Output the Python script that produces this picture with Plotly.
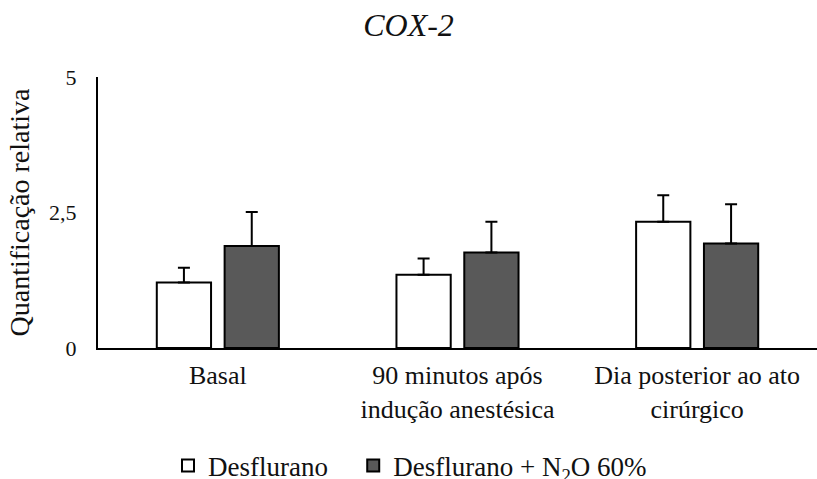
import plotly.graph_objects as go

categories = ["Basal", "90 minutos após<br>indução anestésica", "Dia posterior ao ato<br>cirúrgico"]
series_names = ["Desflurano\u00a0\u00a0\u00a0", "Desflurano + N<sub>2</sub>O 60%"]
desflurano = [1.21, 1.35, 2.33]
desflurano_err = [0.27, 0.30, 0.49]
desf_n2o = [1.88, 1.76, 1.93]
desf_n2o_err = [0.63, 0.57, 0.72]
ytick_vals = [0, 2.5, 5]
ytick_text = ["0", "2,5", "5"]

FONT = "Times New Roman, Liberation Serif, DejaVu Serif, serif"

fig = go.Figure()
fig.add_trace(go.Bar(
    name=series_names[0], x=categories, y=desflurano,
    marker=dict(color="white", line=dict(color="black", width=2)),
    error_y=dict(type="data", array=desflurano_err, arrayminus=[0]*3, symmetric=False,
                 color="black", thickness=2, width=6),
))
fig.add_trace(go.Bar(
    name=series_names[1], x=categories, y=desf_n2o,
    marker=dict(color="#595959", line=dict(color="black", width=2)),
    error_y=dict(type="data", array=desf_n2o_err, arrayminus=[0]*3, symmetric=False,
                 color="black", thickness=2, width=6),
))

fig.update_layout(
    width=817, height=479,
    margin=dict(l=98, r=0, t=77, b=131, autoexpand=False),
    paper_bgcolor="white", plot_bgcolor="white",
    barmode="group", bargap=0.434, bargroupgap=0.2,
    font=dict(family=FONT, color="#111", size=26),
    title=dict(text="<i>COX-2</i>", x=0.5, xref="container", xanchor="center",
               y=1 - 25/479, yref="container", yanchor="middle",
               font=dict(family=FONT, size=32, color="#111")),
    showlegend=True,
    legend=dict(orientation="h", x=168/817, xref="container", xanchor="left",
                y=1 - 466/479, yref="container", yanchor="middle",
                font=dict(family=FONT, size=27, color="#111"),
                itemwidth=30, traceorder="normal", tracegroupgap=0),
    xaxis=dict(showline=True, linecolor="black", linewidth=2, showgrid=False,
               ticks="", tickfont=dict(family=FONT, size=26, color="#111"),
               ticklabelstandoff=3),
    yaxis=dict(range=[0, 5], showline=True, linecolor="black", linewidth=2,
               showgrid=False, zeroline=False, ticks="",
               tickvals=ytick_vals, ticktext=ytick_text,
               tickfont=dict(family=FONT, size=22, color="#111"),
               ticklabelstandoff=15,
               title=dict(text="Quantificação relativa", standoff=11,
                          font=dict(family=FONT, size=28, color="#111"))),
)

fig.write_html("out.html", config={"displayModeBar": False},
               post_script="document.body.style.margin='0';document.body.style.overflow='hidden';")
